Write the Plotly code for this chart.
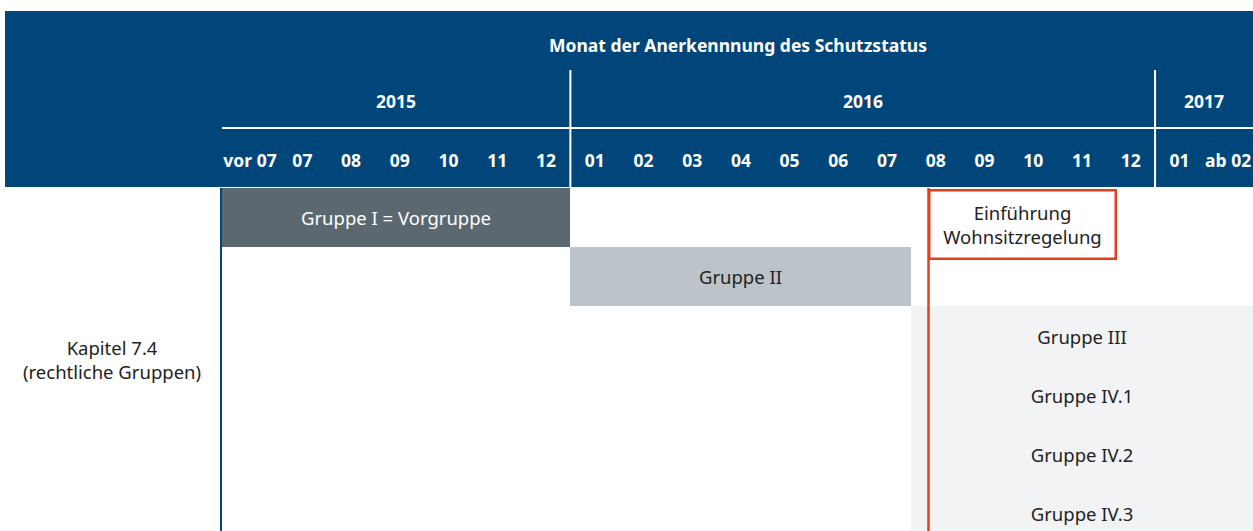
import plotly.graph_objects as go

# month columns along the top axis (index 0 = "vor 07")
months = ["vor 07", "07", "08", "09", "10", "11", "12",
          "01", "02", "03", "04", "05", "06", "07", "08", "09", "10", "11", "12",
          "01", "ab 02"]
years = ["2015", "2016", "2017"]
year_first_col = [0, 7, 19]
vor07_left = -0.65          # "vor 07" column is a bit wider than a month
last_visible = 20.51        # chart is cut off in the last column

# legal groups: first and last month column covered
groups = ["Gruppe I = Vorgruppe", "Gruppe II", "Gruppe III",
          "Gruppe IV.1", "Gruppe IV.2", "Gruppe IV.3"]
group_first_col = [0, 7, 14, 14, 14, 14]
group_last_col = [6, 13, 20, 20, 20, 20]
group_colors = ["#5B6870", "#BCC3C9", "#F2F3F5", "#F2F3F5", "#F2F3F5", "#F2F3F5"]
group_text_colors = ["white", "#222222", "#222222", "#222222", "#222222", "#222222"]

# residence rule introduced early August 2016
wohnsitz_pos = 13.85
wohnsitz_label = "Einführung<br>Wohnsitzregelung"

title = "Monat der Anerkennnung des Schutzstatus"
row_label = "Kapitel 7.4<br>(rechtliche Gruppen)"

BLUE = "#00467A"
RED = "#E0401E"
FONT = "Noto Sans"
W, H = 1253, 531
PLOT_LEFT, PLOT_TOP = 222, 188


def col_left(c):
    return vor07_left if c == 0 else c - 0.5


tick_pos = [(vor07_left + 0.5) / 2 if i == 0 else i for i in range(len(months))]
starts = [col_left(a) for a in group_first_col]
lengths = [(b + 0.5) - col_left(a) for a, b in zip(group_first_col, group_last_col)]
rows = list(range(len(groups)))

fig = go.Figure()
fig.add_trace(go.Bar(
    y=rows, x=lengths, base=starts, orientation="h", width=1,
    marker=dict(color=group_colors, line=dict(width=0)),
    text=groups, textposition="inside", insidetextanchor="middle",
    textangle=0, constraintext="none",
    textfont=dict(color=group_text_colors, size=18.5, family=FONT),
    hoverinfo="skip",
))

hdr_top = (H - 11) / H
hdr_bot = (H - 187) / H
year_line_y = (H - 128) / H
sep_top = (H - 70) / H

shapes = [
    dict(type="rect", xref="paper", yref="paper", x0=5 / W, x1=1, y0=hdr_bot, y1=hdr_top,
         fillcolor=BLUE, line=dict(width=0), layer="below"),
    dict(type="line", xref="x", yref="paper", x0=vor07_left, x1=last_visible,
         y0=year_line_y, y1=year_line_y, line=dict(color="white", width=2), layer="below"),
]
for c in year_first_col[1:]:
    shapes.append(dict(type="line", xref="x", yref="paper", x0=c - 0.5, x1=c - 0.5,
                       y0=hdr_bot - 0.003, y1=sep_top, line=dict(color="white", width=2),
                       layer="below"))
shapes.append(dict(type="line", xref="x", yref="y domain", x0=wohnsitz_pos, x1=wohnsitz_pos,
                   y0=0, y1=1, line=dict(color=RED, width=2.5), layer="above"))

annotations = [
    dict(text="<b>" + title + "</b>", xref="x domain", yref="paper", x=0.5, y=(H - 45) / H,
         xanchor="center", yanchor="middle", showarrow=False,
         font=dict(color="white", size=17.5, family=FONT)),
    dict(text=row_label, xref="paper", yref="y domain", x=112 / W, y=0.5,
         xanchor="center", yanchor="middle", showarrow=False,
         font=dict(color="#222222", size=18.5, family=FONT)),
    dict(text=wohnsitz_label, xref="x", yref="y", x=wohnsitz_pos, y=-0.5,
         xanchor="left", yanchor="top", xshift=-1, yshift=-1,
         width=182, height=64, borderpad=1, borderwidth=2.5, bordercolor=RED,
         bgcolor="white", showarrow=False,
         font=dict(color="#222222", size=18.5, family=FONT)),
]
year_ends = year_first_col[1:] + [None]
for y, a, b in zip(years, year_first_col, year_ends):
    left = col_left(a)
    right = (b - 0.5) if b is not None else 20.5
    annotations.append(dict(text="<b>" + y + "</b>", xref="x", yref="paper",
                            x=(left + right) / 2, y=(H - 101) / H,
                            xanchor="center", yanchor="middle", showarrow=False,
                            font=dict(color="white", size=17.5, family=FONT)))

fig.update_layout(
    width=W, height=H,
    template="none",
    margin=dict(l=0, r=0, t=0, b=0),
    paper_bgcolor="white", plot_bgcolor="white",
    showlegend=False, bargap=0,
    shapes=shapes, annotations=annotations,
    xaxis=dict(domain=[PLOT_LEFT / W, 1], range=[vor07_left, last_visible],
               side="top", tickvals=tick_pos, ticktext=months,
               ticks="outside", ticklen=13, tickcolor=BLUE, tickwidth=0.01,
               tickfont=dict(color="white", size=17.5, family=FONT, weight="bold"),
               showgrid=False, zeroline=False, showline=False, automargin=False,
               fixedrange=True),
    yaxis=dict(domain=[0, (H - PLOT_TOP) / H], range=[5.29, -0.5],
               showticklabels=False, ticks="", showgrid=False, zeroline=False,
               showline=True, linecolor=BLUE, linewidth=2, automargin=False,
               fixedrange=True),
)

fig.write_html("out.html", config={"displayModeBar": False},
               post_script="document.body.style.margin='0';")
